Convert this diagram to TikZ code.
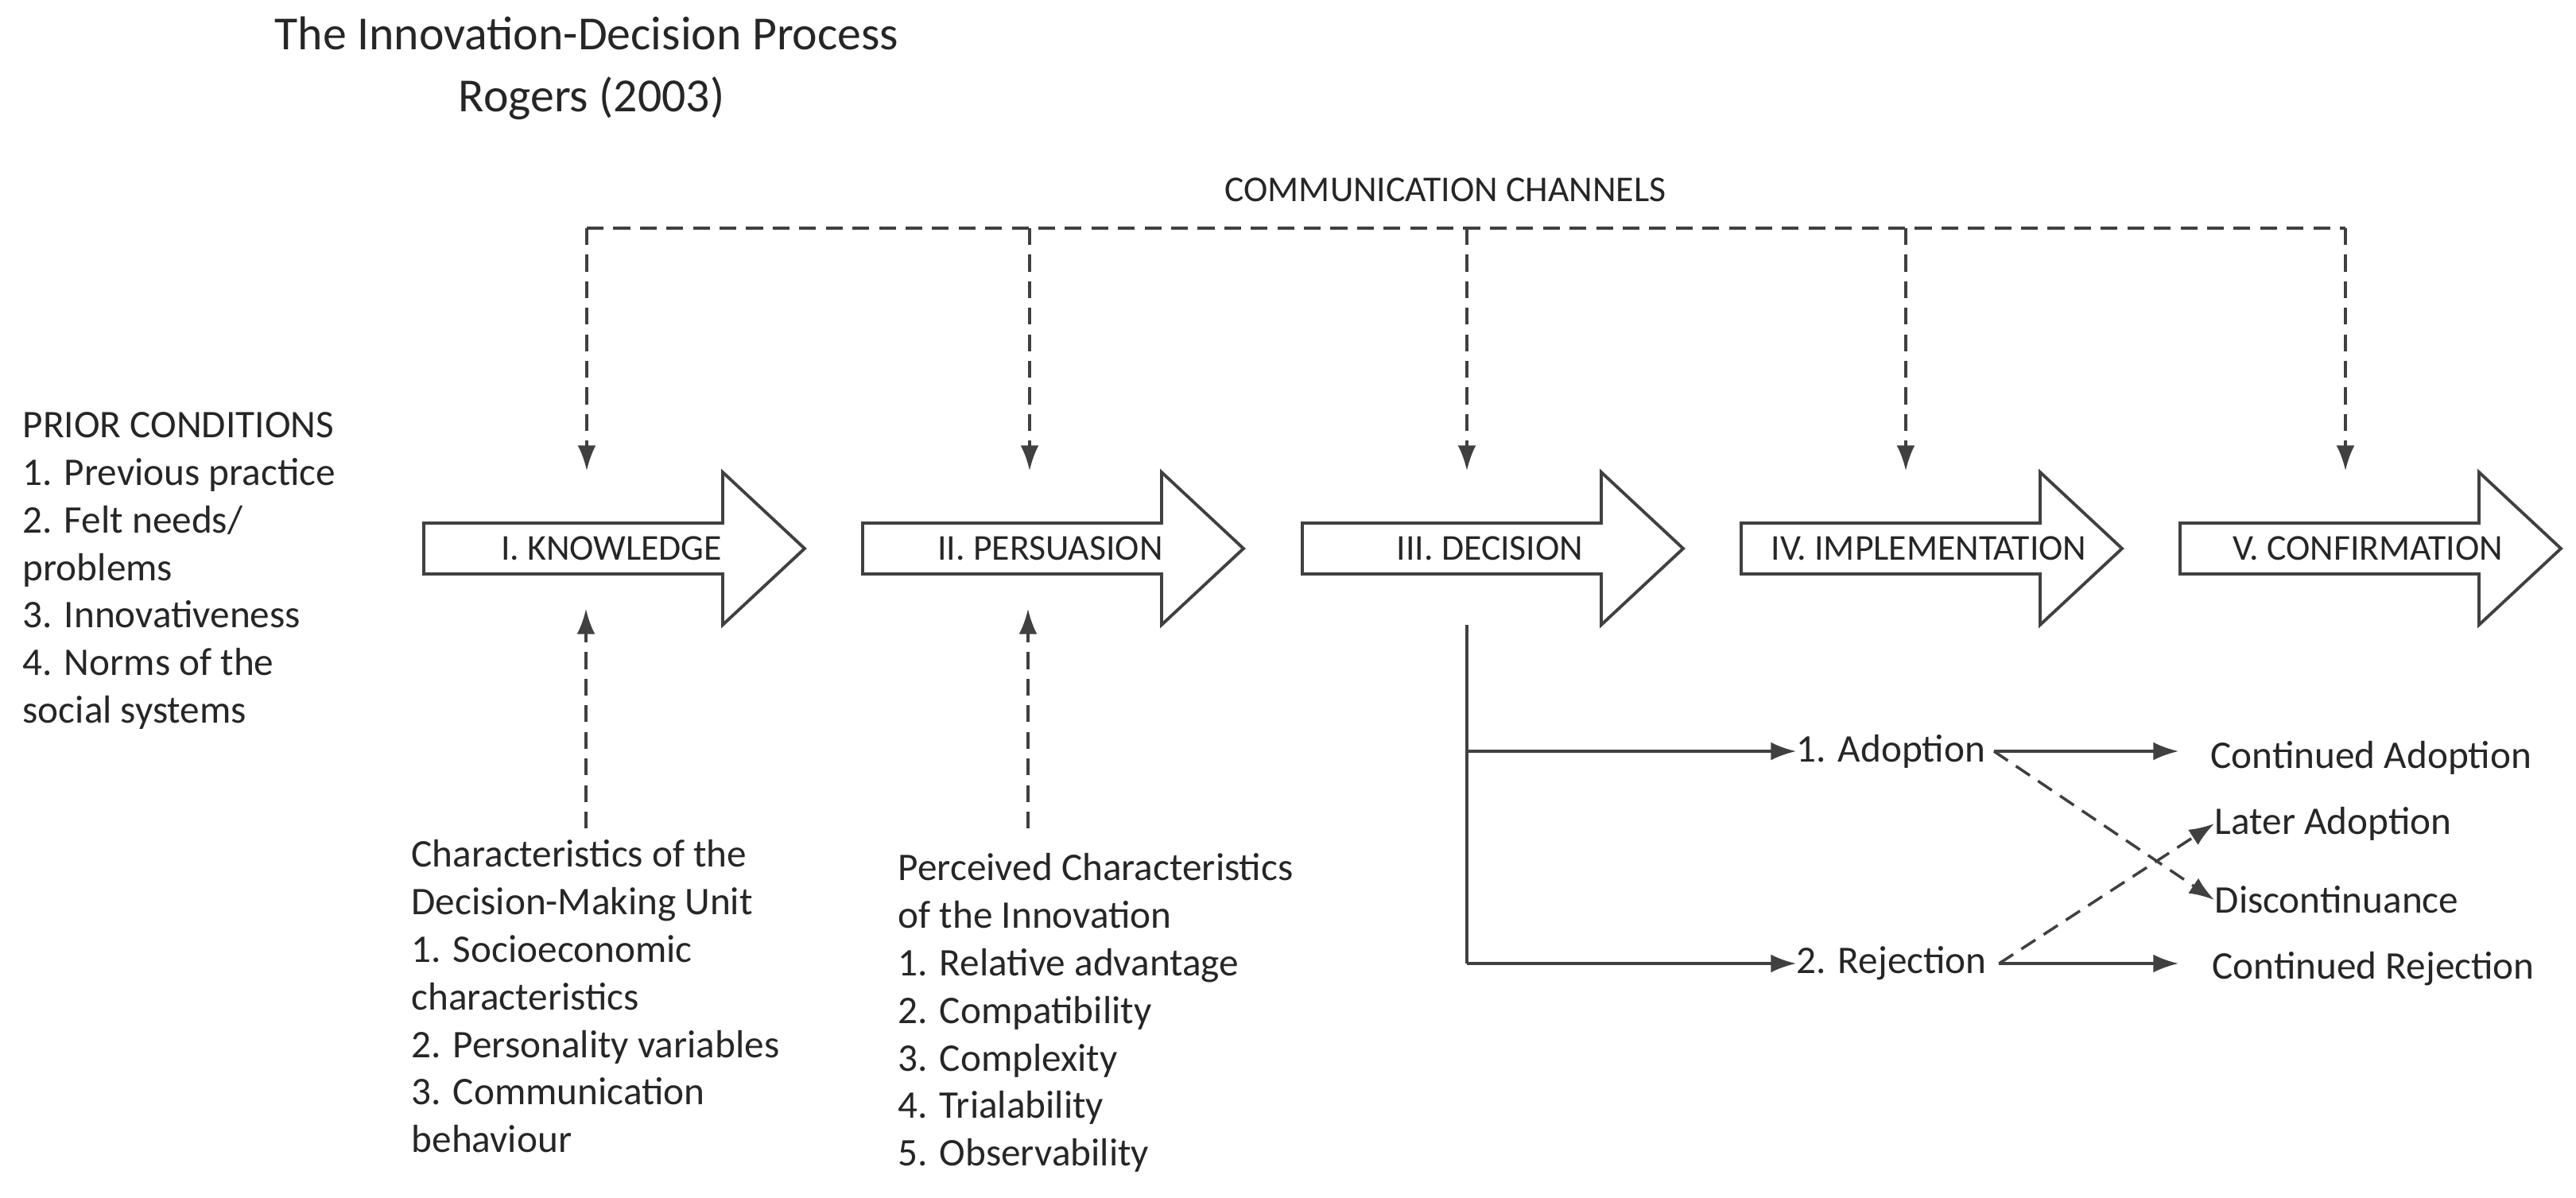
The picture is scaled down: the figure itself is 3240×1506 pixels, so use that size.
\documentclass[tikz,border=0pt]{standalone}
\usepackage{fontspec}
\setmainfont{Carlito}
\usetikzlibrary{arrows.meta}
\begin{document}
\begin{tikzpicture}[x=0.01cm,y=-0.01cm,
  txt/.style={anchor=west,inner sep=0pt,align=left,font=\fontsize{14}{17}\selectfont,text=black!85},
  lbl/.style={inner sep=0pt,font=\fontsize{13}{15}\selectfont,text=black!85},
  big/.style={draw=black!75,line width=1.1pt,fill=white,line join=miter},
  dsh/.style={draw=black!75,line width=1pt,dash pattern=on 6pt off 3.5pt},
  tip/.style={-{Latex[length=9pt,width=6.5pt]}},
  sol/.style={draw=black!75,line width=1pt}]
\useasboundingbox (0,0) rectangle (3240,1506);
% title
\node[inner sep=0pt,font=\fontsize{17}{20}\selectfont,text=black!85] (t1) at (738,42) {The Innovation-Decision Process};
\node[inner sep=0pt,font=\fontsize{17}{20}\selectfont,text=black!85] (t2) at (744,124) {Rogers (2003)};
\node[lbl] (cc) at (1818,239) {COMMUNICATION CHANNELS};
% big arrows
\foreach \x/\n/\t in {533/a1/I. KNOWLEDGE,1085/a2/II. PERSUASION,1638/a3/III. DECISION,2190/a4/IV. IMPLEMENTATION,2742/a5/V. CONFIRMATION}{
  \draw[big] (\x,658) -- (\x+376,658) -- (\x+376,594) -- (\x+479,690) -- (\x+376,786) -- (\x+376,722) -- (\x,722) -- cycle;
  \node[lbl] (\n) at (\x+236,690) {\t};
  \coordinate (\n-top) at (\x+205,590);
  \coordinate (\n-bot) at (\x+205,768);
}
% communication channels
\coordinate (h1) at (738,287); \coordinate (h5) at (2950,287);
\coordinate (h2) at (1295,287); \coordinate (h3) at (1845,287); \coordinate (h4) at (2397,287);
\draw[dsh] (h1) -- (h5);
\draw[dsh,tip] (h1) -- (738,592);
\draw[dsh,tip] (h2) -- (1295,592);
\draw[dsh,tip] (h3) -- (1845,592);
\draw[dsh,tip] (h4) -- (2397,592);
\draw[dsh,tip] (h5) -- (2950,592);
% prior conditions
\node[txt,anchor=north west] (pc) at (28,518) {PRIOR CONDITIONS\\1. Previous practice\\2. Felt needs/\\problems\\3. Innovativeness\\4. Norms of the\\social systems};
% characteristics
\node[txt,anchor=north west] (dmu) at (517,1056) {Characteristics of the\\Decision-Making Unit\\1. Socioeconomic\\characteristics\\2. Personality variables\\3. Communication\\behaviour};
\node[txt,anchor=north west] (pci) at (1129,1073) {Perceived Characteristics\\of the Innovation\\1. Relative advantage\\2. Compatibility\\3. Complexity\\4. Trialability\\5. Observability};
\coordinate (u1) at (737,1042); \coordinate (u2) at (1293,1042);
\draw[dsh,tip] (u1) -- (737,766);
\draw[dsh,tip] (u2) -- (1293,766);
% decision branches
\node[txt] (ad) at (2259,945) {1. Adoption};
\node[txt] (rj) at (2259,1212) {2. Rejection};
\node[txt] (ca) at (2780,953) {Continued Adoption};
\node[txt] (la) at (2785,1036) {Later Adoption};
\node[txt] (dc) at (2785,1132) {Discontinuance};
\node[txt] (cr) at (2782,1219) {Continued Rejection};
\coordinate (d0) at (1845,786);
\coordinate (d1) at (1845,945);
\coordinate (d2) at (1845,1212);
\draw[sol] (d0) -- (d2);
\draw[sol,tip] (d1) -- (ad.west);
\draw[sol,tip] (d2) -- (rj.west);
\draw[sol,tip] (ad.east) ++(10,0) coordinate (ade) -- (2740,945);
\draw[sol,tip] (rj.east) ++(15,0) coordinate (rje) -- (2740,1212);
\draw[dsh,tip] (ade) -- (dc.west);
\draw[dsh,tip] (rje) -- (la.west);
\end{tikzpicture}
\end{document}
